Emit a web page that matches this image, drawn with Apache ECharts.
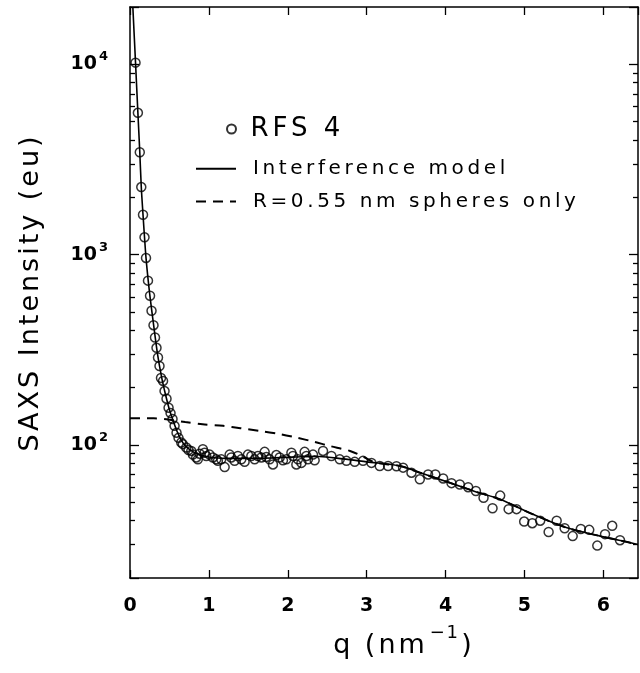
<!DOCTYPE html>
<html>
<head>
<meta charset="utf-8">
<script src="https://cdn.jsdelivr.net/npm/echarts@6/dist/echarts.min.js"></script>
<style>
  html, body { margin: 0; padding: 0; background: #fff; }
  #chart { width: 640px; height: 673px; }
</style>
</head>
<body>
<div id="chart"></div>
<script>
// Measured SAXS intensity, sample RFS 4
const Q_RFS = [
  0.070, 0.100, 0.124, 0.143, 0.165, 0.184, 0.203, 0.228, 0.254, 0.273,
  0.298, 0.317, 0.336, 0.355, 0.374, 0.393, 0.419, 0.438, 0.463, 0.489,
  0.514, 0.539, 0.565, 0.590, 0.615, 0.650, 0.670, 0.713, 0.742, 0.777,
  0.797, 0.840, 0.860, 0.882, 0.924, 0.945, 0.967, 1.009, 1.051, 1.094,
  1.114, 1.157, 1.200, 1.263, 1.284, 1.326, 1.368, 1.411, 1.453, 1.495,
  1.538, 1.580, 1.622, 1.665, 1.707, 1.728, 1.770, 1.812, 1.855, 1.897,
  1.939, 1.982, 2.046, 2.066, 2.109, 2.129, 2.173, 2.214, 2.236, 2.256,
  2.320, 2.341, 2.447, 2.553, 2.659, 2.744, 2.849, 2.954, 3.061, 3.166,
  3.272, 3.378, 3.462, 3.568, 3.674, 3.779, 3.871, 3.970, 4.076, 4.181,
  4.287, 4.385, 4.482, 4.596, 4.693, 4.800, 4.900, 4.997, 5.100, 5.200,
  5.307, 5.409, 5.510, 5.612, 5.715, 5.822, 5.924, 6.022, 6.113, 6.212
];
const I_RFS = [
  10200, 5560, 3450, 2265, 1620, 1233, 961, 730, 608, 507,
  426, 367, 324, 288, 260, 225, 217, 192, 175, 157,
  147, 137, 126, 116, 109, 103, 101, 97, 94, 93,
  89, 86, 84, 90, 95, 91, 87.5, 89, 86, 84,
  82.5, 84, 76.5, 89, 86, 82.5, 87.5, 84, 81.5, 89,
  87.5, 84, 87.5, 86, 92, 86.5, 84, 79, 88.5, 86,
  83, 84, 91, 87.5, 79, 84, 80.5, 92, 87.5, 84,
  89, 83, 93, 87.5, 84, 82.5, 81.5, 82.5, 80.5, 77.5,
  77.5, 77.3, 76, 71.5, 66, 70, 70, 66.7, 63, 62,
  60, 57.3, 52.8, 46.5, 54.2, 46, 46, 39.6, 38.8, 40,
  34.9, 40, 36.5, 33.2, 36.2, 35.8, 29.6, 34, 37.6, 31.6
];

// Interference model curve
const Q_MODEL = [
  0.036, 0.070, 0.100, 0.124, 0.143, 0.165, 0.184, 0.203, 0.228, 0.254,
  0.30, 0.35, 0.40, 0.45, 0.50, 0.55, 0.60, 0.65, 0.70, 0.80,
  0.90, 1.00, 1.20, 1.50, 1.80, 2.10, 2.40, 2.70, 3.00, 3.43,
  3.70, 4.05, 4.40, 4.69, 5.11, 5.54, 5.96, 6.20, 6.44
];
const I_MODEL = [
  20000, 10200, 5560, 3450, 2265, 1620, 1233, 961, 750, 600,
  425, 298, 228, 184, 153, 133, 117, 106, 99, 92,
  88.5, 86.5, 85, 85, 85.5, 86.5, 87, 84.5, 81.5, 77.4,
  71, 63.4, 56.5, 51.8, 43.2, 36.7, 33.2, 31.6, 30
];

// R = 0.55 nm spheres only
const Q_SPHERES = [
  0.00, 0.30, 0.46, 0.70, 0.92, 1.18, 1.40, 1.64, 1.90, 2.11,
  2.33, 2.53, 2.79, 2.95, 3.10, 3.43, 3.70, 4.05, 4.40, 4.69,
  5.11, 5.54, 5.96, 6.20, 6.44
];
const I_SPHERES = [
  138, 138, 136.5, 132, 128.5, 126, 122.5, 118.5, 114, 109.3,
  104, 98.8, 93, 87, 81, 77.4, 71, 63.4, 56.5, 51.8,
  43.2, 36.7, 33.2, 31.6, 30
];

// Axis ranges and tick values
const Q_MIN = 0, Q_MAX = 6.44, Q_STEP = 1;
const I_MIN = 20, I_MAX = 20000;
const MINOR_TICKS = [30, 40, 50, 60, 70, 80, 90, 200, 300, 400, 500, 600, 700, 800, 900,
                     2000, 3000, 4000, 5000, 6000, 7000, 8000, 9000];

const SERIES_NAMES = ['RFS 4', 'Interference model', 'R=0.55 nm spheres only'];

// Plot lettering is widely tracked; add letter spacing per font size (regular weight only)
const TRACKING_PX = { 26: 4, 27: 3, 20: 3.6, 18: 1.5 };
(function () {
  const proto = window.CanvasRenderingContext2D && CanvasRenderingContext2D.prototype;
  if (!proto || !('letterSpacing' in proto)) return;
  const track = (ctx) => {
    const f = ctx.font || '';
    const m = /(\d+(?:\.\d+)?)px/.exec(f);
    const bold = /bold|[6-9]00/.test(f);
    const px = (m && !bold) ? (TRACKING_PX[Math.round(+m[1])] || 0) : 0;
    ctx.letterSpacing = px + 'px';
  };
  const fill = proto.fillText, stroke = proto.strokeText, measure = proto.measureText;
  proto.fillText = function () { track(this); return fill.apply(this, arguments); };
  proto.strokeText = function () { track(this); return stroke.apply(this, arguments); };
  proto.measureText = function () { track(this); return measure.apply(this, arguments); };
})();

const FONT = '"DejaVu Sans", sans-serif';
const INK = '#000';
const NONE = 'rgba(0,0,0,0)';

const zip = (xs, ys) => xs.map((x, i) => [x, ys[i]]);

const chart = echarts.init(document.getElementById('chart'), null, { renderer: 'canvas' });

// every axis stays on its own frame edge
const frameLine = { show: true, onZero: false, lineStyle: { color: INK, width: 1.5 } };
const tickStyle = { color: INK, width: 1.3 };

// log-scale axis that only carries the short 2..9 minor ticks on one side of the frame
const minorTickAxis = (position) => ({
  type: 'log', logBase: 10, position,
  min: I_MIN, max: I_MAX,
  axisLine: { show: false, onZero: false },
  axisTick: { show: true, inside: true, length: 5, customValues: MINOR_TICKS, lineStyle: tickStyle },
  axisLabel: { show: false },
  splitLine: { show: false }
});

chart.setOption({
  animation: false,
  backgroundColor: '#fff',
  grid: { left: 130, right: 2, top: 7, bottom: 95, containLabel: false, outerBoundsMode: 'none' },
  legend: [
    {
      data: [SERIES_NAMES[0]],
      left: 226, top: 114, padding: 0,
      itemWidth: 28, itemHeight: 9,
      icon: 'circle',
      selectedMode: false,
      textStyle: { fontFamily: FONT, fontSize: 26, color: INK }
    },
    {
      data: [SERIES_NAMES[1], SERIES_NAMES[2]],
      orient: 'vertical',
      left: 195, top: 157, padding: 0,
      itemWidth: 40, itemHeight: 14, itemGap: 9,
      selectedMode: false,
      itemStyle: { color: NONE, borderWidth: 0, opacity: 0 },
      textStyle: { fontFamily: FONT, fontSize: 20, color: INK, padding: [0, 0, 0, 12] }
    }
  ],
  xAxis: [
    {
      type: 'value', position: 'bottom',
      min: Q_MIN, max: Q_MAX, interval: Q_STEP,
      axisLine: frameLine,
      axisTick: { show: true, inside: true, length: 8, lineStyle: tickStyle },
      splitLine: { show: false },
      axisLabel: {
        show: true, showMaxLabel: false, margin: 19,
        color: INK, fontFamily: FONT, fontSize: 19, fontWeight: 'bold'
      },
      name: '{a|q (nm}{s|−1}{a|)}',
      nameLocation: 'middle', nameGap: 46,
      nameTextStyle: {
        padding: [0, 0, 0, 40],
        rich: {
          a: { fontFamily: FONT, fontSize: 27, color: INK },
          s: { fontFamily: FONT, fontSize: 18, color: INK, padding: [0, 2, 24, 2] }
        }
      }
    },
    {
      type: 'value', position: 'top',
      min: Q_MIN, max: Q_MAX, interval: Q_STEP,
      axisLine: frameLine,
      axisTick: { show: true, inside: true, length: 8, lineStyle: tickStyle },
      splitLine: { show: false },
      axisLabel: { show: false }
    }
  ],
  yAxis: [
    {
      type: 'log', logBase: 10, position: 'left',
      min: I_MIN, max: I_MAX,
      axisLine: frameLine,
      axisTick: { show: true, inside: true, length: 9, lineStyle: tickStyle },
      splitLine: { show: false },
      axisLabel: {
        show: true, margin: 22,
        formatter: (v) => {
          const e = Math.log10(v);
          if (Math.abs(e - Math.round(e)) > 1e-6) return '';
          return '{b|10}{s|' + Math.round(e) + '}';
        },
        rich: {
          b: { fontFamily: FONT, fontSize: 19, fontWeight: 'bold', color: INK },
          s: { fontFamily: FONT, fontSize: 13, fontWeight: 'bold', color: INK, padding: [0, 0, 15, 2] }
        }
      },
      name: 'SAXS Intensity (eu)',
      nameLocation: 'middle', nameGap: 84, nameRotate: 90,
      nameTextStyle: { fontFamily: FONT, fontSize: 27, color: INK }
    },
    {
      type: 'log', logBase: 10, position: 'right',
      min: I_MIN, max: I_MAX,
      axisLine: frameLine,
      axisTick: { show: true, inside: true, length: 9, lineStyle: tickStyle },
      splitLine: { show: false },
      axisLabel: { show: false }
    },
    minorTickAxis('left'),
    minorTickAxis('right')
  ],
  series: [
    {
      name: SERIES_NAMES[0],
      type: 'scatter',
      data: zip(Q_RFS, I_RFS),
      symbol: 'circle', symbolSize: 9,
      itemStyle: { color: NONE, borderColor: INK, borderWidth: 1.5 },
      z: 4
    },
    {
      name: SERIES_NAMES[1],
      type: 'line',
      data: zip(Q_MODEL, I_MODEL),
      smooth: 0.3, symbol: 'none', showSymbol: false,
      lineStyle: { color: INK, width: 1.6, type: 'solid' },
      itemStyle: { color: NONE },
      z: 3
    },
    {
      name: SERIES_NAMES[2],
      type: 'line',
      data: zip(Q_SPHERES, I_SPHERES),
      smooth: 0.3, symbol: 'none', showSymbol: false,
      lineStyle: { color: INK, width: 2, type: [10, 7] },
      itemStyle: { color: NONE },
      z: 2
    }
  ]
});
</script>
</body>
</html>
